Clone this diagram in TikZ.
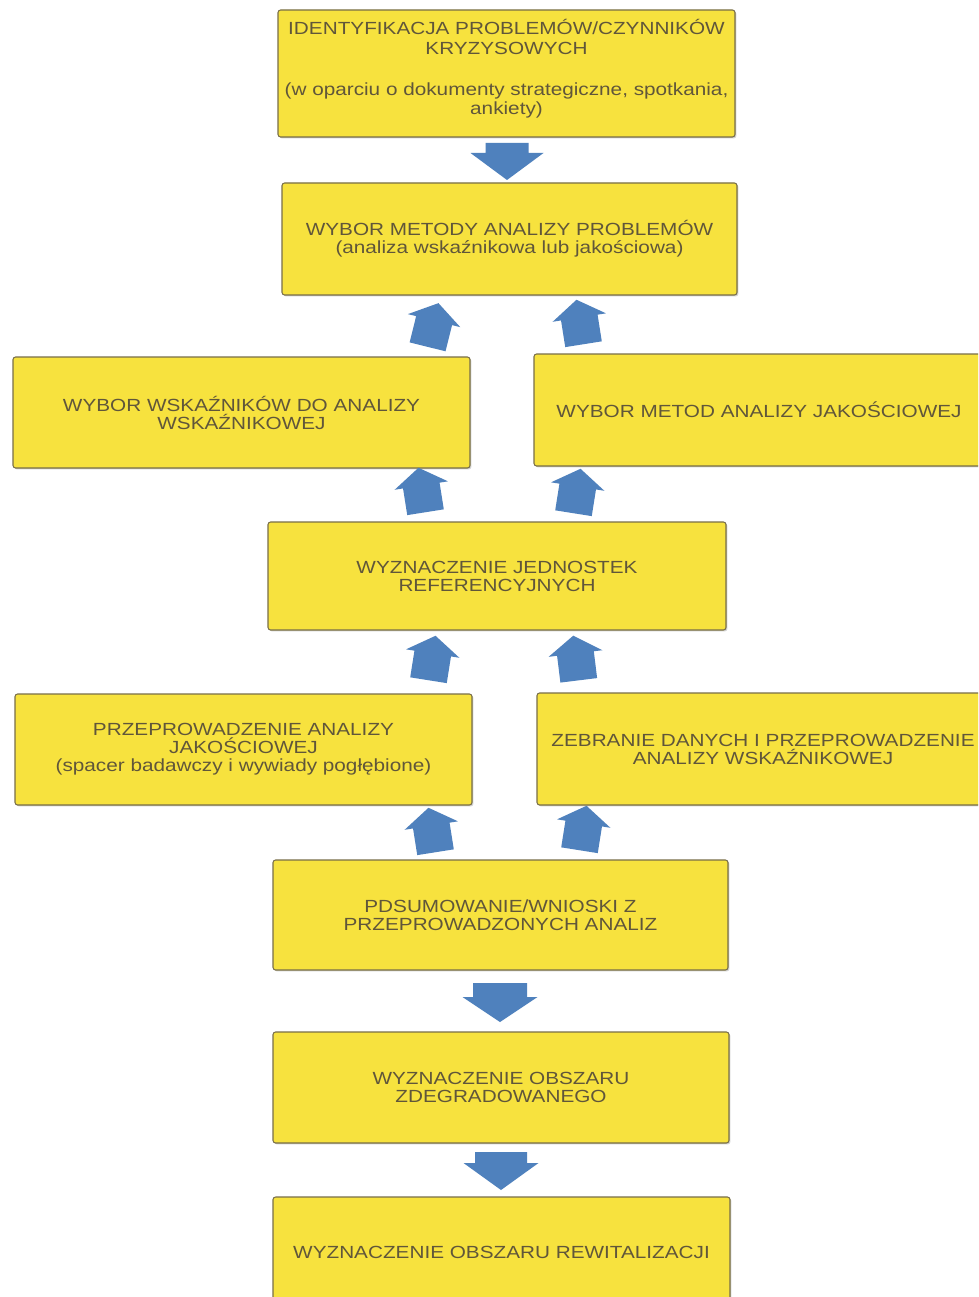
\documentclass[tikz,border=0pt]{standalone}
\usepackage{fontspec}
\setmainfont{Liberation Sans}[FakeStretch=1.18]
\usetikzlibrary{calc,shadows}

\definecolor{boxfill}{RGB}{247,226,62}
\definecolor{boxline}{RGB}{120,110,72}
\definecolor{boxtext}{RGB}{96,86,58}
\definecolor{arrowfill}{RGB}{79,129,189}
\newcommand\pxu{0.02cm}

\tikzset{
  stepbox/.style 2 args={draw=boxline, fill=boxfill, line width=0.6pt, rounded corners=1.5pt,
    drop shadow={shadow xshift=0.8pt, shadow yshift=-0.8pt, opacity=0.35},
    align=center, text=boxtext, inner sep=2pt, font=\fontsize{10}{10.25}\selectfont,
    minimum width=#1*\pxu, minimum height=#2*\pxu},
  pics/blockarr/.style n args={4}{code={
    \fill[arrowfill] (-#4/2,-#1/2) -- (#4/2,-#1/2) -- (#4/2,#1/2-#2) -- (#3/2,#1/2-#2)
      -- (0,#1/2) -- (-#3/2,#1/2-#2) -- (-#4/2,#1/2-#2) -- cycle;
  }}
}

\begin{document}
\begin{tikzpicture}[x=0.02cm, y=-0.02cm]
        \useasboundingbox (0,0) rectangle (978,1297);
        \clip (0,0) rectangle (978,1297);
        \fill[white] (0,0) rectangle (978,1297);
        % boxes
        \node [stepbox={457}{127}] (b1) at (506.5,73.5)
          {IDENTYFIKACJA PROBLEMÓW/CZYNNIKÓW\\[1pt]KRYZYSOWYCH\\[13pt]
           (w oparciu o dokumenty strategiczne, spotkania,\\[1pt]ankiety)\\[-3pt]\mbox{}};
        \node [stepbox={455}{112}] (b2) at (509.5,239)
          {WYBOR METODY ANALIZY PROBLEMÓW\\(analiza wskaźnikowa lub jakościowa)};
        \node [stepbox={457}{111}] (b3) at (241.5,412.5)
          {WYBOR WSKAŹNIKÓW DO ANALIZY\\WSKAŹNIKOWEJ};
        \node [stepbox={450}{112}] (b4) at (759,410)
          {WYBOR METOD ANALIZY JAKOŚCIOWEJ};
        \node [stepbox={458}{108}] (b5) at (497,576)
          {WYZNACZENIE JEDNOSTEK\\REFERENCYJNYCH};
        \node [stepbox={457}{111}] (b6) at (243.5,749.5)
          {PRZEPROWADZENIE ANALIZY\\JAKOŚCIOWEJ\\(spacer badawczy i wywiady pogłębione)};
        \node [stepbox={452}{112}] (b7) at (763,749)
          {ZEBRANIE DANYCH I PRZEPROWADZENIE\\ANALIZY WSKAŹNIKOWEJ};
        \node [stepbox={455}{110}] (b8) at (500.5,915)
          {PDSUMOWANIE/WNIOSKI Z\\PRZEPROWADZONYCH ANALIZ};
        \node [stepbox={456}{111}] (b9) at (501,1087.5)
          {WYZNACZENIE OBSZARU\\ZDEGRADOWANEGO};
        \node [stepbox={457}{110}] (b10) at (501.5,1252)
          {WYZNACZENIE OBSZARU REWITALIZACJI};
        % straight arrows
        \pic at (507,161.5) {blockarr={37}{27}{73}{43}};
        \pic at (500,1002.5) {blockarr={39}{25}{75}{54}};
        \pic at (501,1171) {blockarr={38}{27}{75}{52}};
        % tilted arrows
        \foreach \cx/\cy/\rot in {433/325/166, 580/322/189, 422/490/189, 577/491/171,
                                  432/658/171, 576/658/187, 432/830/189, 583/828/171}
          \pic [rotate=\rot] at (\cx,\cy) {blockarr={45}{18}{54}{37}};
    \end{tikzpicture}
\end{document}
